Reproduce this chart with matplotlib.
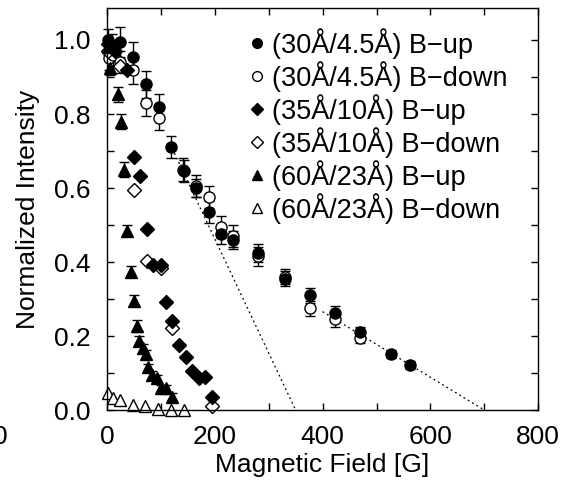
import matplotlib
matplotlib.use("Agg")
import matplotlib.pyplot as plt
import numpy as np
from matplotlib.ticker import MultipleLocator

plt.rcParams["font.family"] = ["Liberation Sans", "DejaVu Sans"]

# (30A/4.5A) B-up / B-down
x_30_up = [2, 10, 25, 48, 72, 97, 119, 142, 165, 189, 212, 234, 281, 330, 377, 423, 469, 527, 562]
y_30_up = [1.0, 0.985, 0.995, 0.955, 0.88, 0.82, 0.71, 0.645, 0.60, 0.535, 0.475, 0.46, 0.425, 0.355, 0.31, 0.262, 0.21, 0.152, 0.122]
e_30_up = [0.03, 0.03, 0.04, 0.04, 0.036, 0.033, 0.03, 0.03, 0.025, 0.03, 0.025, 0.025, 0.025, 0.02, 0.02, 0.02, 0.015, 0.01, 0.01]
x_30_dn = [3, 12, 25, 48, 72, 97, 141, 165, 189, 212, 234, 281, 330, 377, 423, 469]
y_30_dn = [0.95, 0.96, 0.94, 0.92, 0.83, 0.79, 0.65, 0.605, 0.575, 0.495, 0.47, 0.415, 0.36, 0.275, 0.245, 0.195]
e_30_dn = [0.03, 0.03, 0.03, 0.04, 0.036, 0.034, 0.03, 0.03, 0.03, 0.03, 0.03, 0.025, 0.02, 0.02, 0.02, 0.015]

# (35A/10A) B-up / B-down
x_35_up = [2, 15, 38, 50, 62, 75, 86, 100, 110, 121, 134, 146, 158, 170, 182, 194]
y_35_up = [0.99, 0.97, 0.92, 0.685, 0.632, 0.49, 0.392, 0.392, 0.293, 0.24, 0.176, 0.144, 0.106, 0.086, 0.09, 0.036]
x_35_dn = [2, 25, 50, 74, 100, 121, 194]
y_35_dn = [0.97, 0.93, 0.595, 0.404, 0.383, 0.221, 0.011]

# (60A/23A) B-up / B-down
x_60_up = [2, 6, 20, 26, 32, 38, 44, 50, 55, 60, 66, 72, 77, 84, 92, 101, 110, 120]
y_60_up = [0.98, 0.925, 0.853, 0.779, 0.649, 0.485, 0.374, 0.295, 0.227, 0.187, 0.167, 0.151, 0.115, 0.095, 0.086, 0.059, 0.059, 0.036]
e_60_up = [0.02, 0.02, 0.02, 0.02, 0.02, 0.015, 0.015, 0.015, 0.015, 0.012, 0.012, 0.012, 0.01, 0.01, 0.01, 0.01, 0.01, 0.01]
x_60_dn = [2, 12, 25, 48, 71, 95, 118, 142]
y_60_dn = [0.045, 0.032, 0.027, 0.014, 0.012, 0.003, 0.0, 0.0]

# dotted guide lines
fit1_x = [125, 350]
fit1_y = [0.694, 0.0]
fit2_x = [400, 700]
fit2_y = [0.266, 0.0]

labels = ["(30Å/4.5Å) B−up", "(30Å/4.5Å) B−down", "(35Å/10Å) B−up",
          "(35Å/10Å) B−down", "(60Å/23Å) B−up", "(60Å/23Å) B−down"]

fig = plt.figure(figsize=(5.63, 4.87), dpi=100)
ax = fig.add_axes([0.190, 0.158, 0.766, 0.826])

ax.plot(fit1_x, fit1_y, ls=(0, (1.5, 2.5)), color="black", lw=0.9)
ax.plot(fit2_x, fit2_y, ls=(0, (1.5, 2.5)), color="black", lw=0.9)

eb = dict(fmt="none", ecolor="black", elinewidth=1.0, capsize=3.5, capthick=1.0, clip_on=False)
ax.errorbar(x_30_dn, y_30_dn, yerr=e_30_dn, **eb)
ax.errorbar(x_30_up, y_30_up, yerr=e_30_up, **eb)
ax.errorbar(x_60_up, y_60_up, yerr=e_60_up, **eb)

mk = dict(ls="none", color="black", clip_on=False)
ax.plot(x_30_dn, y_30_dn, "o", ms=8, mfc="white", mew=1.0, **mk)
ax.plot(x_30_up, y_30_up, "o", ms=8, mfc="black", **mk)
ax.plot(x_35_dn, y_35_dn, "D", ms=7, mfc="white", mew=1.0, **mk)
ax.plot(x_35_up, y_35_up, "D", ms=7, mfc="black", **mk)
ax.plot(x_60_dn, y_60_dn, "^", ms=8, mfc="white", mew=1.0, **mk)
ax.plot(x_60_up, y_60_up, "^", ms=8, mfc="black", **mk)

# legend handles (markers only)
styles = [("o", "black"), ("o", "white"), ("D", "black"), ("D", "white"), ("^", "black"), ("^", "white")]
handles = [plt.Line2D([], [], ls="none", marker=m, mfc=f, mec="black", color="black",
                      ms=7 if m != "D" else 6, mew=1.0) for m, f in styles]
ax.legend(handles, labels, loc="upper left", bbox_to_anchor=(0.325, 0.95), frameon=False,
          fontsize=19.5, handlelength=0.7, handletextpad=0.2, labelspacing=0.08,
          borderpad=0, borderaxespad=0)

ax.set_xlim(0, 800)
ax.set_ylim(0, 1.087)
ax.xaxis.set_major_locator(MultipleLocator(200))
ax.xaxis.set_minor_locator(MultipleLocator(100))
ax.yaxis.set_major_locator(MultipleLocator(0.2))
ax.yaxis.set_minor_locator(MultipleLocator(0.1))
ax.yaxis.set_major_formatter(plt.FuncFormatter(lambda v, p: f"{v:.1f}"))
ax.tick_params(which="both", direction="in", top=True, right=True, length=5, width=1.0, labelsize=19)
ax.tick_params(axis="x", pad=11)
ax.tick_params(axis="y", pad=12)
for s in ax.spines.values():
    s.set_linewidth(1.0)

ax.set_xlabel("Magnetic Field [G]", fontsize=19, labelpad=3)
ax.set_ylabel("Normalized Intensity", fontsize=19, labelpad=10)

# partially visible tick label from a neighbouring panel
fig.text(0.0, 0.103, "0", fontsize=19, ha="center", va="center")

fig.savefig("out.png", dpi=100)
